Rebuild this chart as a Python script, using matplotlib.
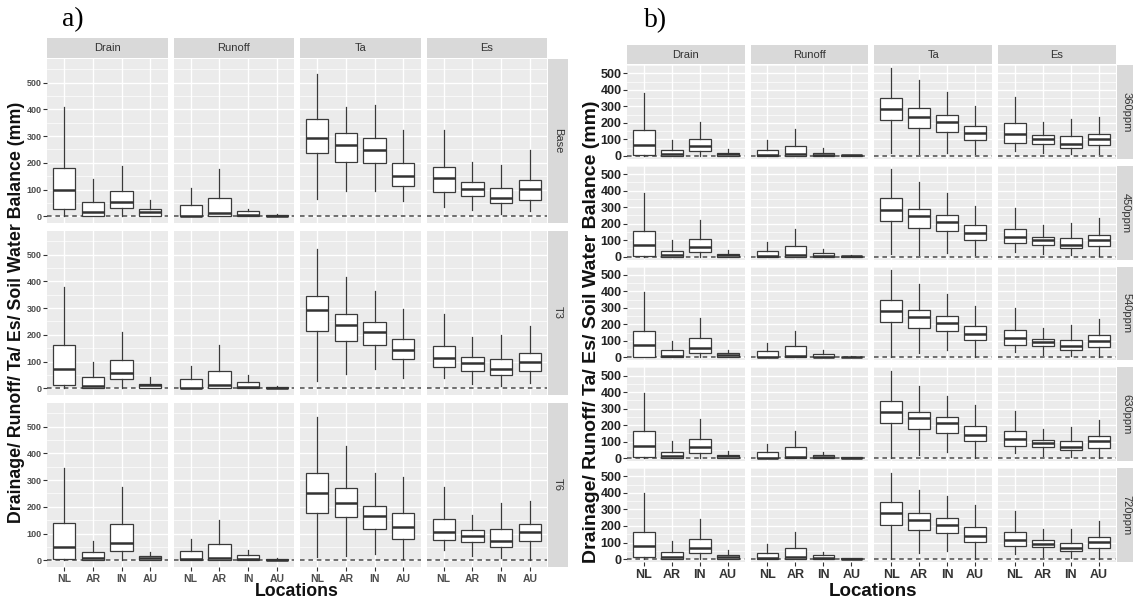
import matplotlib
matplotlib.use("Agg")
import matplotlib.pyplot as plt
from matplotlib.patches import Rectangle

W, H = 1133, 606

LOCATIONS = ["NL", "AR", "IN", "AU"]
VARIABLES = ["Drain", "Runoff", "Ta", "Es"]
A_ROWS = ["Base", "T3", "T6"]
B_ROWS = ["360ppm", "450ppm", "540ppm", "630ppm", "720ppm"]
Y_TICKS = [0, 100, 200, 300, 400, 500]
Y_MINOR = [50, 150, 250, 350, 450, 550]

# each box: [whisker low, Q1, median, Q3, whisker high] for NL, AR, IN, AU
A_DRAIN = [
    [[0, 27, 99, 179, 407], [0, 2, 17, 55, 138], [0, 31, 53, 96, 189], [0, 2, 15, 27, 62]],
    [[0, 11, 72, 161, 379], [0, 0, 10, 41, 99], [0, 33, 57, 105, 212], [0, 0, 12, 17, 41]],
    [[0, 4, 49, 141, 345], [0, 0, 9, 30, 73], [0, 33, 63, 134, 274], [0, 0, 10, 15, 32]],
]
A_RUNOFF = [
    [[0, 0, 2, 42, 105], [0, 2, 12, 70, 178], [0, 0, 4, 21, 28], [0, 0, 2, 5, 7]],
    [[0, 0, 2, 35, 85], [0, 0, 12, 66, 163], [0, 0, 4, 23, 51], [0, 0, 2, 5, 7]],
    [[0, 0, 5, 33, 80], [0, 0, 10, 61, 151], [0, 0, 5, 18, 40], [0, 0, 2, 5, 7]],
]
A_TA = [
    [[65, 235, 294, 362, 531], [93, 204, 265, 311, 410], [93, 201, 248, 294, 416], [56, 114, 152, 198, 323]],
    [[26, 216, 291, 346, 521], [54, 178, 238, 278, 416], [72, 162, 211, 246, 363], [38, 109, 144, 185, 296]],
    [[12, 178, 253, 327, 534], [17, 161, 213, 271, 429], [25, 117, 165, 203, 325], [5, 79, 125, 175, 312]],
]
A_ES = [
    [[35, 91, 143, 186, 323], [22, 75, 101, 128, 202], [10, 48, 67, 106, 190], [19, 60, 101, 137, 249]],
    [[38, 78, 113, 157, 279], [17, 65, 94, 117, 190], [9, 49, 72, 110, 199], [21, 65, 100, 132, 233]],
    [[37, 75, 107, 156, 274], [17, 69, 91, 112, 170], [10, 49, 71, 116, 213], [2, 71, 106, 134, 220]],
]

B_DRAIN = [
    [[0, 4, 67, 155, 382], [0, 0, 10, 37, 96], [0, 29, 57, 102, 206], [0, 0, 10, 16, 43]],
    [[0, 5, 68, 155, 385], [0, 0, 12, 37, 100], [0, 30, 60, 105, 220], [0, 0, 11, 18, 40]],
    [[0, 5, 73, 161, 394], [0, 0, 10, 43, 102], [0, 28, 57, 116, 236], [0, 0, 12, 24, 47]],
    [[0, 6, 75, 162, 395], [0, 0, 12, 40, 105], [0, 30, 65, 118, 240], [0, 0, 12, 20, 45]],
    [[0, 12, 78, 165, 399], [0, 0, 15, 45, 112], [0, 35, 64, 122, 240], [0, 0, 15, 25, 54]],
]
B_RUNOFF = [
    [[0, 0, 4, 37, 96], [0, 0, 10, 59, 163], [0, 0, 4, 18, 47], [0, 0, 2, 5, 7]],
    [[0, 0, 4, 35, 90], [0, 0, 10, 65, 165], [0, 0, 4, 20, 45], [0, 0, 2, 5, 7]],
    [[0, 0, 4, 37, 87], [0, 0, 10, 67, 161], [0, 0, 4, 20, 47], [0, 0, 2, 5, 7]],
    [[0, 0, 4, 35, 88], [0, 0, 10, 68, 163], [0, 0, 5, 22, 40], [0, 0, 2, 5, 7]],
    [[0, 0, 5, 35, 89], [0, 0, 15, 68, 165], [0, 0, 8, 25, 41], [0, 0, 2, 5, 7]],
]
B_TA = [
    [[20, 218, 286, 349, 531], [10, 171, 237, 288, 461], [20, 147, 206, 249, 386], [10, 94, 137, 178, 300]],
    [[15, 217, 284, 354, 529], [10, 176, 248, 290, 449], [20, 156, 207, 254, 388], [10, 102, 146, 190, 309]],
    [[0, 214, 283, 348, 531], [28, 177, 244, 287, 443], [43, 159, 211, 250, 384], [0, 106, 144, 189, 311]],
    [[0, 211, 279, 348, 530], [20, 176, 242, 282, 435], [40, 152, 211, 248, 379], [0, 105, 142, 193, 323]],
    [[0, 205, 277, 343, 523], [39, 178, 236, 281, 419], [50, 155, 207, 250, 380], [0, 105, 142, 192, 325]],
]
B_ES = [
    [[31, 80, 135, 196, 355], [20, 71, 102, 129, 206], [10, 49, 73, 118, 220], [10, 67, 104, 135, 233]],
    [[30, 80, 121, 166, 297], [18, 72, 98, 117, 190], [10, 54, 68, 113, 203], [5, 64, 101, 131, 233]],
    [[31, 77, 118, 165, 297], [16, 69, 93, 114, 181], [10, 47, 67, 106, 195], [0, 63, 102, 134, 234]],
    [[30, 76, 118, 162, 288], [15, 70, 93, 112, 180], [10, 47, 68, 104, 190], [0, 64, 102, 133, 232]],
    [[29, 78, 118, 161, 293], [15, 70, 93, 114, 180], [8, 47, 68, 100, 180], [0, 64, 102, 133, 228]],
]

plt.rcParams['font.family'] = ['Liberation Sans', 'DejaVu Sans']

fig = plt.figure(figsize=(W / 100, H / 100), dpi=100)
fig.patch.set_facecolor('white')


def px_rect(x, y, w, h):
    return [x / W, 1 - (y + h) / H, w / W, h / H]


def draw_grid(data, row_labels, left0, col_step, pw, top0, row_step, ph,
              ylim, strip_h, ytick_fs, ytick_col, xtick_fs, xtick_col):
    nrows = len(row_labels)
    for c, var in enumerate(VARIABLES):
        x = left0 + c * col_step
        # top strip
        sax = fig.add_axes(px_rect(x, top0 - strip_h - 1, pw, strip_h))
        sax.set_axis_off()
        sax.add_patch(Rectangle((0, 0), 1, 1, transform=sax.transAxes,
                                facecolor='#D9D9D9', edgecolor='none'))
        sax.text(0.5, 0.5, var, ha='center', va='center', fontsize=8,
                 color='#333333', transform=sax.transAxes)
        for r in range(nrows):
            y = top0 + r * row_step
            ax = fig.add_axes(px_rect(x, y, pw, ph))
            ax.set_facecolor('#EBEBEB')
            for s in ax.spines.values():
                s.set_visible(False)
            ax.set_xlim(0.4, 4.6)
            ax.set_ylim(*ylim)
            ax.set_yticks(Y_TICKS)
            ax.set_yticks(Y_MINOR, minor=True)
            ax.set_xticks([1, 2, 3, 4])
            ax.grid(which='major', color='white', lw=1.0)
            ax.grid(which='minor', axis='y', color='white', lw=0.5)
            ax.set_axisbelow(True)
            ax.tick_params(which='minor', length=0)
            ax.axhline(0, color='#4a4a4a', ls=(0, (3, 2.5)), lw=1.1, zorder=1.5)
            vals = data[c][r]
            stats = [dict(whislo=v[0], q1=v[1], med=v[2], q3=v[3], whishi=v[4],
                          fliers=[], label=LOCATIONS[i]) for i, v in enumerate(vals)]
            ax.bxp(stats, positions=[1, 2, 3, 4], widths=0.78, showcaps=False,
                   showfliers=False, patch_artist=True,
                   boxprops=dict(facecolor='white', edgecolor='#3a3a3a', lw=0.9),
                   whiskerprops=dict(color='#3a3a3a', lw=0.9),
                   medianprops=dict(color='#333333', lw=1.8),
                   manage_ticks=False, zorder=2)
            if c == 0:
                ax.set_yticklabels([str(t) for t in Y_TICKS], fontsize=ytick_fs,
                                   fontweight='bold', color=ytick_col)
                ax.tick_params(axis='y', which='major', length=3, width=0.8,
                               color='#333333', pad=1)
            else:
                ax.tick_params(axis='y', which='both', length=0, labelleft=False)
            if r == nrows - 1:
                ax.set_xticklabels(LOCATIONS, fontsize=xtick_fs, fontweight='bold',
                                   color=xtick_col)
                ax.tick_params(axis='x', length=3, width=0.8, color='#333333', pad=2)
            else:
                ax.tick_params(axis='x', length=0, labelbottom=False)
            # right strip
            if c == len(VARIABLES) - 1:
                rax = fig.add_axes(px_rect(x + pw + 1, y, strip_h, ph))
                rax.set_axis_off()
                rax.add_patch(Rectangle((0, 0), 1, 1, transform=rax.transAxes,
                                        facecolor='#D9D9D9', edgecolor='none'))
                rax.text(0.5, 0.5, row_labels[r], ha='center', va='center',
                         fontsize=8, color='#333333', rotation=-90,
                         transform=rax.transAxes)


# grid a
draw_grid([A_DRAIN, A_RUNOFF, A_TA, A_ES], A_ROWS,
          left0=47, col_step=126.5, pw=120.5,
          top0=59, row_step=172, ph=164,
          ylim=(-25, 588), strip_h=20,
          ytick_fs=6.5, ytick_col='#4D4D4D', xtick_fs=7.5, xtick_col='#4D4D4D')

# grid b
draw_grid([B_DRAIN, B_RUNOFF, B_TA, B_ES], B_ROWS,
          left0=627, col_step=123.7, pw=117.5,
          top0=65, row_step=100.8, ph=93.8,
          ylim=(-18, 535), strip_h=19,
          ytick_fs=9, ytick_col='#222222', xtick_fs=9, xtick_col='#333333')

ylab = "Drainage/ Runoff/ Ta/ Es/ Soil Water Balance (mm)"
fig.text(17 / W, 1 - 312 / H, ylab, rotation=90, ha='center', va='center',
         fontsize=12.8, fontweight='bold', color='#111111')
fig.text(591 / W, 1 - 332 / H, ylab, rotation=90, ha='center', va='center',
         fontsize=14, fontweight='bold', color='#111111')
fig.text(297 / W, 1 - 591 / H, "Locations", ha='center', va='center',
         fontsize=12.8, fontweight='bold', color='#111111')
fig.text(873 / W, 1 - 591 / H, "Locations", ha='center', va='center',
         fontsize=13.5, fontweight='bold', color='#111111')
fig.text(62 / W, 1 - 20 / H, "a)", ha='left', va='center', fontsize=20,
         family=['Liberation Serif', 'DejaVu Serif'], color='black')
fig.text(644 / W, 1 - 21 / H, "b)", ha='left', va='center', fontsize=20,
         family=['Liberation Serif', 'DejaVu Serif'], color='black')

fig.savefig("out.png", dpi=100)
